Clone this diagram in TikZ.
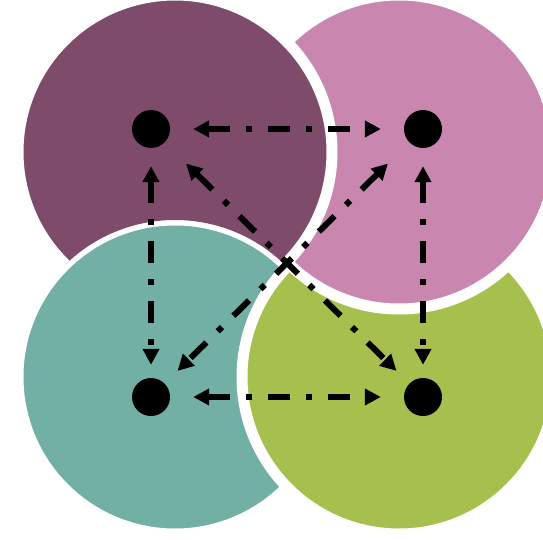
\documentclass[tikz,border=0pt]{standalone}
\usetikzlibrary{arrows.meta}

\definecolor{plum}{RGB}{127,75,107}
\definecolor{rose}{RGB}{201,135,176}
\definecolor{sea}{RGB}{114,175,165}
\definecolor{lime}{RGB}{167,192,77}

\begin{document}
\begin{tikzpicture}[x=1pt,y=-1pt,node distance=272pt,>={Triangle[length=16pt,width=16pt]}]
        \tikzstyle{disc}=[draw=white,line width=11pt]
        \tikzstyle{dot}=[circle,fill=black,minimum size=38pt,inner sep=0pt]
        \tikzstyle{flow}=[<->,line width=6pt,dash pattern=on 22pt off 16pt on 6pt off 16pt,shorten <=23pt,shorten >=23pt]

        \useasboundingbox (0,0) rectangle (543,540);

        \filldraw [disc,fill=plum] (175,152) circle [radius=157pt]; %top left
        \filldraw [disc,fill=sea]  (175,377) circle [radius=157pt]; %bottom left
        \filldraw [disc,fill=lime] (399,377) circle [radius=157pt]; %bottom right
        \filldraw [disc,fill=rose] (399,152) circle [radius=157pt]; %top right
        \begin{scope}[even odd rule]
            \clip (-10,-10) rectangle (553,264);                     %plum back on top of rose
            \clip (-20,-20) rectangle (563,560) (175,377) circle [radius=157pt];
            \filldraw [disc,fill=plum] (175,152) circle [radius=157pt];
        \end{scope}

        \node [dot] (tl) at (151,129) {};
        \node [dot] (tr) [right of=tl] {};
        \node [dot] (bl) at (151,397) {};
        \node [dot] (br) [right of=bl] {};

        \draw [flow] (tl) -- (tr);
        \draw [flow] (bl) -- (br);
        \draw [flow,shorten <=18pt,shorten >=13pt] (tl) -- (bl);
        \draw [flow,shorten <=18pt,shorten >=13pt] (tr) -- (br);
        \draw [flow,shorten <=30pt,shorten >=18pt] (tl) -- (br);
        \draw [flow,shorten <=30pt,shorten >=18pt] (tr) -- (bl);
    \end{tikzpicture}
\end{document}
